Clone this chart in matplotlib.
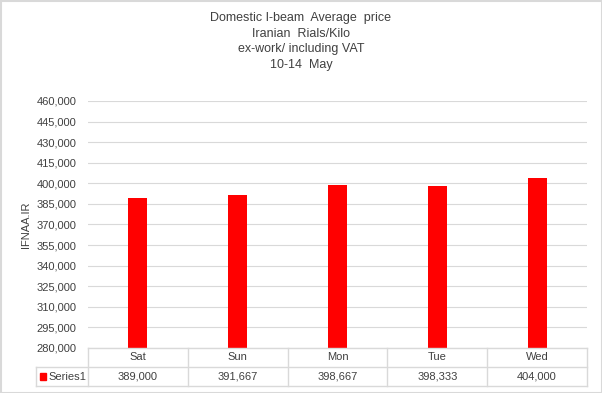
import matplotlib.pyplot as plt
from matplotlib.lines import Line2D
from matplotlib.patches import Rectangle

days = ['Sat', 'Sun', 'Mon', 'Tue', 'Wed']
prices = [389000, 391667, 398667, 398333, 404000]
series_name = 'Series1'
title = 'Domestic I-beam  Average  price\nIranian  Rials/Kilo\nex-work/ including VAT\n10-14  May'

W, H = 602, 393
fig = plt.figure(figsize=(W / 100, H / 100), dpi=100)
plt.rcParams['font.family'] = ['Liberation Sans', 'DejaVu Sans']

grid_c = '#d9d9d9'
txt_c = '#404040'

# plot area in pixels
x0, x1 = 88, 587
y_top, y_bot = 101, 348
ax = fig.add_axes([x0 / W, (H - y_bot) / H, (x1 - x0) / W, (y_bot - y_top) / H])
xs = list(range(len(days)))
ax.bar(xs, prices, width=0.19, color='#ff0000', zorder=3)
ax.set_xlim(-0.5, len(days) - 0.5)
ax.set_ylim(280000, 460000)
ax.set_yticks(range(280000, 460001, 15000))
ax.set_yticklabels([f'{v:,}' for v in range(280000, 460001, 15000)], fontsize=8, color=txt_c)
ax.tick_params(axis='y', length=0, pad=8.5)
ax.set_xticks([])
ax.grid(axis='y', color=grid_c, linewidth=0.8, zorder=0)
for s in ax.spines.values():
    s.set_visible(False)
ax.set_ylabel('IFNAA.IR', fontsize=8, color=txt_c, labelpad=4)

# data table below the plot
row1, row2 = 367, 386
tab = fig.add_axes([x0 / W, (H - row2) / H, (x1 - x0) / W, (row2 - y_bot) / H])
tab.set_xlim(-0.5, len(days) - 0.5)
tab.set_ylim(0, 2)
tab.axis('off')
leg_left = -0.5 - (x0 - 36) / ((x1 - x0) / len(days))
lk = dict(color=grid_c, linewidth=1, clip_on=False)
tab.add_line(Line2D([-0.5, 4.5], [2, 2], **lk))
tab.add_line(Line2D([leg_left, 4.5], [1, 1], **lk))
tab.add_line(Line2D([leg_left, 4.5], [0, 0], **lk))
tab.add_line(Line2D([leg_left, leg_left], [0, 1], **lk))
for i in range(len(days) + 1):
    tab.add_line(Line2D([i - 0.5, i - 0.5], [0, 2], **lk))
for i, (d, p) in enumerate(zip(days, prices)):
    tab.text(i, 1.5, d, ha='center', va='center', fontsize=8, color=txt_c)
    tab.text(i, 0.5, f'{p:,}', ha='center', va='center', fontsize=8, color=txt_c)
tab.add_patch(Rectangle((leg_left + 0.04, 0.3), 0.065, 0.4, color='#ff0000', clip_on=False))
tab.text(leg_left + 0.13, 0.5, series_name, ha='left', va='center', fontsize=8, color=txt_c)

fig.text(0.5, 1 - 12 / H, title, ha='center', va='top', fontsize=9, color=txt_c,
         linespacing=1.4)

fig.add_artist(Rectangle((0.5 / W, 0.5 / H), 1 - 1 / W, 1 - 1 / H, transform=fig.transFigure,
                         fill=False, edgecolor='#d9d9d9', linewidth=1.5))
fig.savefig('out.png', dpi=100)
